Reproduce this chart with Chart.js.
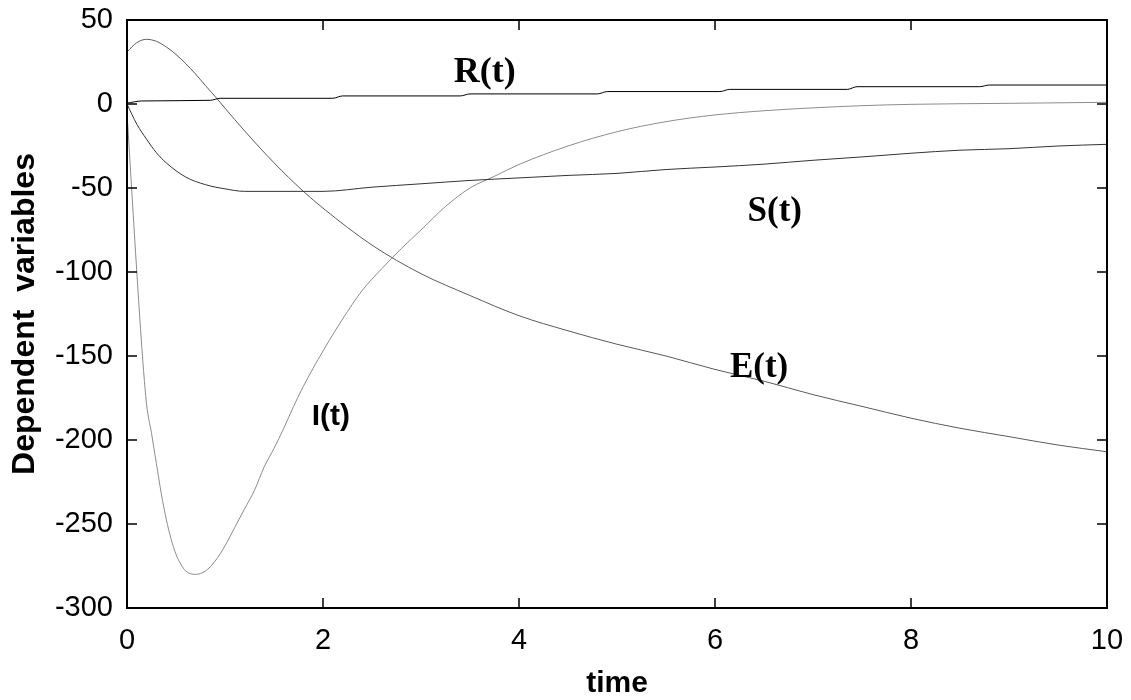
<!DOCTYPE html>
<html>
<head>
<meta charset="utf-8">
<script src="https://cdn.jsdelivr.net/npm/chart.js@4.4.1/dist/chart.umd.min.js"></script>
<style>
  body { margin: 0; background: #fff; }
  canvas { display: block; }
</style>
</head>
<body>
<canvas id="myChart" width="1131" height="700"></canvas>
<script>
// values
const eTime = [0, 0.1, 0.2, 0.3, 0.4, 0.5, 0.6, 0.7, 0.8, 0.9, 1.0, 1.2, 1.5, 1.8, 2.0, 2.5, 3.0, 3.5, 4.0, 4.5, 5.0, 5.5, 6.0, 6.5, 7.0, 7.5, 8.0, 8.5, 9.0, 9.5, 10];
const eValues = [31, 36.5, 38.5, 37.3, 34, 29.5, 24, 17.8, 11, 4.4, -2.5, -16, -35, -52, -62, -84, -101, -114, -126, -135, -143, -150, -158, -165, -173, -180, -187, -193, -198, -203, -207];

const sTime = [0, 0.1, 0.2, 0.3, 0.4, 0.6, 0.8, 1.0, 1.2, 1.5, 2.0, 2.5, 3.0, 3.5, 4.0, 4.5, 5.0, 5.5, 6.0, 6.5, 7.0, 7.5, 8.0, 8.5, 9.0, 9.5, 10];
const sValues = [0, -12, -21, -29, -35, -43.5, -48, -50.5, -52, -52, -52, -49.5, -47.5, -45.5, -44, -42.5, -41.3, -39, -37.5, -35.8, -33.5, -31.5, -29.3, -27.5, -26.6, -25, -24];

const iTime = [0, 0.05, 0.1, 0.15, 0.175, 0.2, 0.25, 0.3, 0.35, 0.4, 0.45, 0.5, 0.55, 0.6, 0.7, 0.8, 0.9, 1.0, 1.1, 1.2, 1.3, 1.4, 1.5, 1.6, 1.7, 1.8, 2.0, 2.2, 2.4, 2.6, 2.8, 3.0, 3.25, 3.5, 3.75, 4.0, 4.5, 5.0, 5.5, 6.0, 6.5, 7.0, 7.5, 8.0, 9.0, 10];
const iValues = [-5, -53, -100, -144, -163, -179, -196, -214, -232, -247, -259, -268, -274, -278, -280, -278, -272, -263, -252, -241, -230, -216, -205, -193, -180, -168, -147, -128, -111, -98, -86, -75, -61, -50, -43, -36, -25, -16.5, -10.5, -6.5, -4, -2.3, -1, -0.2, 0.4, 1];

const rTime = [0, 0.15, 0.85, 0.95, 2.1, 2.2, 3.4, 3.5, 4.8, 4.9, 6.05, 6.15, 7.35, 7.45, 8.7, 8.8, 10];
const rValues = [0.5, 1.8, 2.2, 3.4, 3.4, 4.8, 4.8, 6.0, 6.0, 7.4, 7.4, 8.7, 8.7, 10.3, 10.3, 11.3, 11.3];

const xTicks = [0, 2, 4, 6, 8, 10];
const yTicks = [50, 0, -50, -100, -150, -200, -250, -300];

const sansFont = "'Liberation Sans', Arial, sans-serif";

const toPoints = (times, values) => times.map((t, i) => ({ x: t, y: values[i] }));

// curve names, placed in data coordinates
const curveLabels = [
  { text: "R(t)", x: 3.65, y: 18.5, font: "bold 36px 'Liberation Serif', 'Times New Roman', serif" },
  { text: "S(t)", x: 6.61, y: -64, font: "bold 35px 'Liberation Serif', 'Times New Roman', serif" },
  { text: "E(t)", x: 6.45, y: -157, font: "bold 35px 'Liberation Serif', 'Times New Roman', serif" },
  { text: "I(t)", x: 2.08, y: -186, font: "bold 30px 'Liberation Sans Narrow', 'Arial Narrow', sans-serif" },
];

const boxAndTicks = {
  id: "boxAndTicks",
  afterDatasetsDraw(chart) {
    const { ctx, chartArea: a, scales } = chart;
    const len = 10;
    ctx.save();
    ctx.strokeStyle = "#000";
    ctx.lineWidth = 2;
    ctx.strokeRect(a.left, a.top, a.right - a.left, a.bottom - a.top);
    ctx.lineWidth = 1.5;
    ctx.beginPath();
    xTicks.forEach((v) => {
      const px = scales.x.getPixelForValue(v);
      ctx.moveTo(px, a.bottom);
      ctx.lineTo(px, a.bottom - len);
      ctx.moveTo(px, a.top);
      ctx.lineTo(px, a.top + len);
    });
    yTicks.forEach((v) => {
      const py = scales.y.getPixelForValue(v);
      ctx.moveTo(a.left, py);
      ctx.lineTo(a.left + len, py);
      ctx.moveTo(a.right, py);
      ctx.lineTo(a.right - len, py);
    });
    ctx.stroke();

    ctx.fillStyle = "#000";
    ctx.textAlign = "center";
    ctx.textBaseline = "middle";
    curveLabels.forEach((l) => {
      ctx.font = l.font;
      ctx.fillText(l.text, scales.x.getPixelForValue(l.x), scales.y.getPixelForValue(l.y));
    });
    ctx.restore();
  },
};

const lineSet = (label, times, values, color) => ({
  label: label,
  data: toPoints(times, values),
  borderColor: color,
  borderWidth: 1,
  pointRadius: 0,
  cubicInterpolationMode: "monotone",
  fill: false,
});

new Chart(document.getElementById("myChart"), {
  type: "line",
  data: {
    datasets: [
      lineSet("R(t)", rTime, rValues, "#000000"),
      lineSet("S(t)", sTime, sValues, "#333333"),
      lineSet("E(t)", eTime, eValues, "#5a5a5a"),
      lineSet("I(t)", iTime, iValues, "#8c8c8c"),
    ],
  },
  options: {
    responsive: false,
    animation: false,
    devicePixelRatio: 1,
    layout: { padding: { top: 20, right: 24, left: 0, bottom: 0 } },
    plugins: {
      legend: { display: false },
      tooltip: { enabled: false },
    },
    scales: {
      x: {
        type: "linear",
        min: 0,
        max: 10,
        afterFit: (scale) => {
          scale.height = 92;
          scale.paddingLeft = 0;
          scale.paddingRight = 0;
        },
        afterBuildTicks: (scale) => { scale.ticks = xTicks.map((v) => ({ value: v })); },
        grid: { display: false, drawTicks: false },
        border: { display: false },
        ticks: {
          padding: 16,
          color: "#000",
          font: { family: sansFont, size: 29 },
          maxRotation: 0,
        },
        title: {
          display: true,
          text: "time",
          color: "#000",
          font: { family: sansFont, size: 30, weight: "bold" },
          padding: { top: 0, bottom: -2 },
        },
      },
      y: {
        type: "linear",
        min: -300,
        max: 50,
        afterFit: (scale) => {
          scale.width = 127;
          scale.paddingTop = 0;
          scale.paddingBottom = 0;
        },
        afterBuildTicks: (scale) => { scale.ticks = yTicks.map((v) => ({ value: v })); },
        grid: { display: false, drawTicks: false },
        border: { display: false },
        ticks: {
          padding: 14,
          color: "#000",
          font: { family: sansFont, size: 29 },
        },
        title: {
          display: true,
          text: "Dependent  variables",
          color: "#000",
          font: { family: sansFont, size: 32, weight: "bold" },
          padding: { top: 6, bottom: 0 },
        },
      },
    },
  },
  plugins: [boxAndTicks],
});
</script>
</body>
</html>
